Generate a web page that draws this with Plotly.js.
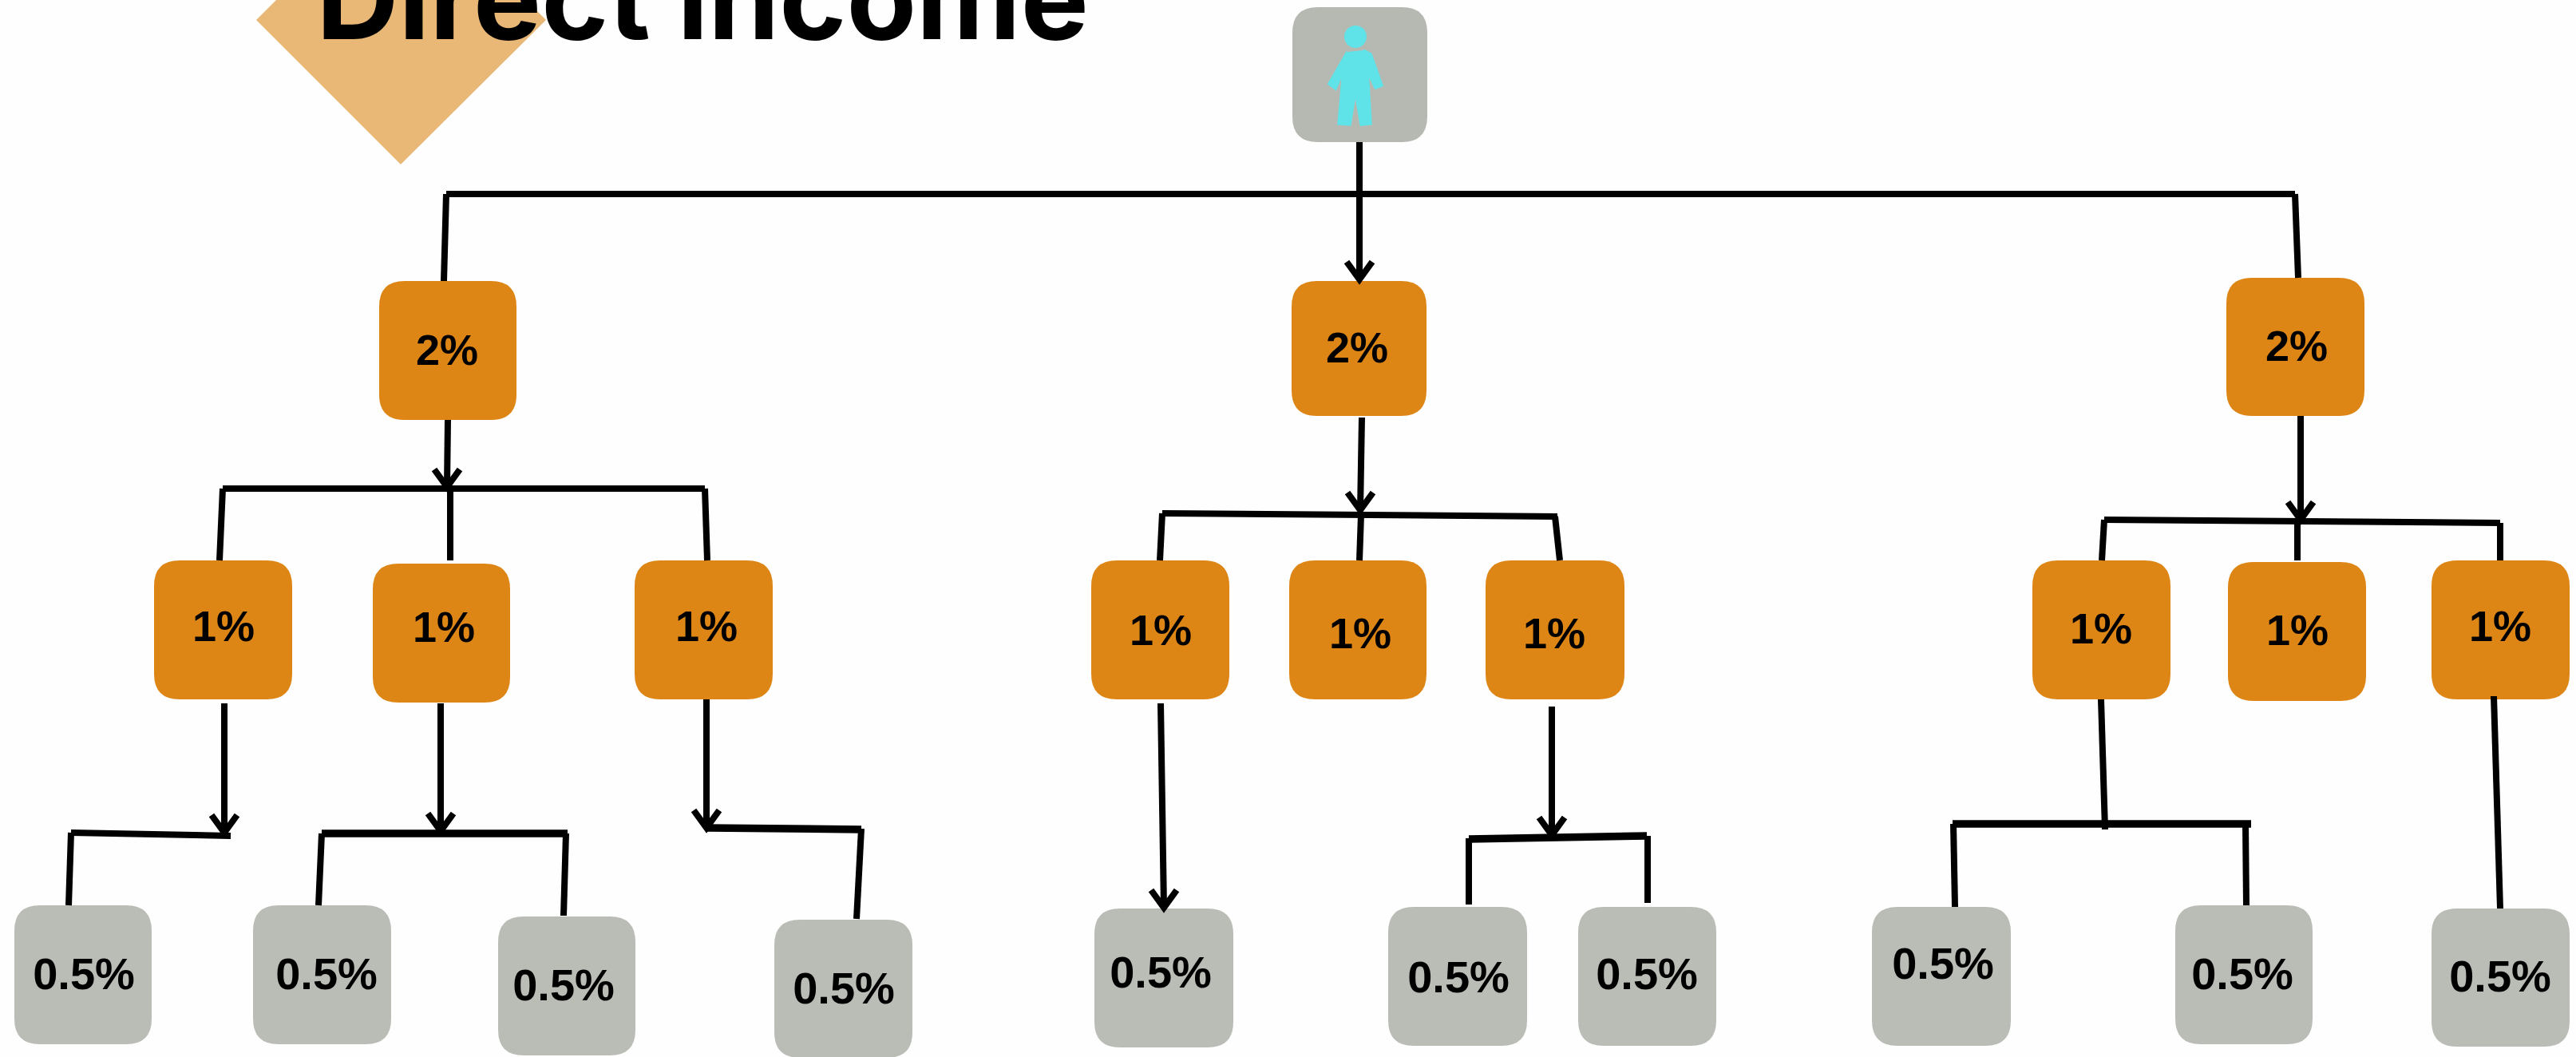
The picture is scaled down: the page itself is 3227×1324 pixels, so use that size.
<!DOCTYPE html>
<html><head><meta charset="utf-8">
<script src="https://cdn.plot.ly/plotly-3.0.1.min.js"></script>
<style>html,body{margin:0;padding:0;background:#fff;overflow:hidden}#c{width:3227px;height:1324px}</style>
</head><body><div id="c"></div>
<script>
// Nodes
const nodeLabels = ['','2%','2%','2%','1%','1%','1%','1%','1%','1%','1%','1%','1%','0.5%','0.5%','0.5%','0.5%','0.5%','0.5%','0.5%','0.5%','0.5%','0.5%'];
const nodeLeft   = [1619,475,1618,2789,193,467,795,1367,1615,1861,2546,2791,3046,18,317,624,970,1371,1739,1977,2345,2725,3046];
const nodeRight  = [1788,647,1787,2962,366,639,968,1540,1787,2035,2719,2964,3219,190,490,796,1143,1545,1913,2150,2519,2897,3219];
const nodeTop    = [9,352,352,348,702,706,702,702,702,702,702,704,702,1134,1134,1148,1152,1138,1136,1136,1136,1134,1138];
const nodeBottom = [178,526,521,521,876,880,876,876,876,876,876,878,876,1308,1308,1322,1325,1312,1310,1310,1310,1308,1311];
const labelX     = [null,560,1700,2877,280,556,885,1454,1704,1947,2632,2878,3132,105,409,706,1057,1454,1827,2063,2434,2809,3132];
const labelY     = [null,443,440,438,789,790,789,794,798,798,792,794,789,1225,1225,1239,1243,1223,1229,1225,1212,1225,1228];
const labelSize  = [54,54,54,54,54,54,54,54,54,54,54,54,54,56,56,56,56,56,56,56,56,56,56];
const nodeColor  = ['#B6B9B2','#DD8615','#DD8615','#DD8615','#DD8615','#DD8615','#DD8615','#DD8615','#DD8615','#DD8615','#DD8615','#DD8615','#DD8615','#B9BDB6','#B9BDB6','#B9BDB6','#B9BDB6','#B9BDB6','#B9BDB6','#B9BDB6','#B9BDB6','#B9BDB6','#B9BDB6'];
// Connectors
const lineX1 = [559,559,2875,1703,1703,1706,561,279,279,564,883,1456,1456,1705,1948,2636,2636,2878,3132,281,89,89,552,885,1079,1454,1944,1840,2064,2632,2447,2813,3124,2882,403,709];
const lineY1 = [243,243,243,178,243,523,526,612,612,612,612,643,643,645,647,651,651,653,655,881,1043,1043,881,876,1038,881,885,1050,1047,876,1032,1032,872,521,1044,1044];
const lineX2 = [2875,556,2879,1703,1703,1704,560,883,275,564,886,1951,1453,1703,1954,3132,2633,2878,3132,281,289,86,552,885,1073,1458,1944,1840,2064,2637,2449,2814,3132,2882,399,706];
const lineY2 = [243,352,348,243,350,639,610,612,702,702,702,647,702,702,702,655,702,702,702,1043,1047,1134,1041,1037,1151,1137,1046,1133,1131,1039,1136,1134,1138,651,1134,1147];
// Thick connector pieces
const thickX1 = [403,885,1840,2446];
const thickY1 = [1044,1037,1051,1032];
const thickX2 = [711,1079,2063,2820];
const thickY2 = [1044,1039,1047,1032];
// Arrow tips
const arrowX = [1703,560,1704,2882,281,552,885,1458,1944];
const arrowY = [350,610,639,651,1043,1041,1037,1137,1046];
// Decoration
const diamondX = [502,684,502,321,502];
const diamondY = [-156,25,206,25,-156];
const titleText = 'Direct income';
const personX = [1688,1665,1673,1683,1677,1691,1698,1705,1717,1713,1723,1731,1717,1708];
const personY = [65,105,111,88,155,156,113,156,155,88,110,107,68,63];
const headX = 1698, headY = 46, headR = 14;

const shapes = nodeLabels.map((_,i)=>{
  const l=nodeLeft[i],r=nodeRight[i],t=nodeTop[i],b=nodeBottom[i],c=32;
  return {type:'path',xref:'x',yref:'y',layer:'below',line:{width:0},fillcolor:nodeColor[i],
    path:`M${l+c},${t}L${r-c},${t}Q${r},${t} ${r},${t+c}L${r},${b-c}Q${r},${b} ${r-c},${b}L${l+c},${b}Q${l},${b} ${l},${b-c}L${l},${t+c}Q${l},${t} ${l+c},${t}Z`};
});
shapes.push({type:'circle',xref:'x',yref:'y',x0:headX-headR,x1:headX+headR,y0:headY-headR,y1:headY+headR,fillcolor:'#5FE3E8',line:{width:0},layer:'above'});

function segs(x1,y1,x2,y2){const x=[],y=[];x1.forEach((v,i)=>{x.push(v,x2[i],null);y.push(y1[i],y2[i],null);});return {x,y};}
const thin=segs(lineX1,lineY1,lineX2,lineY2);
const thick=segs(thickX1,thickY1,thickX2,thickY2);
const hx=[],hy=[];
arrowX.forEach((v,i)=>{hx.push(v-16,v,v+16,null);hy.push(arrowY[i]-22,arrowY[i],arrowY[i]-22,null);});

const data=[
 {x:diamondX,y:diamondY,mode:'lines',fill:'toself',fillcolor:'#E9B776',line:{width:0},type:'scatter'},
 {x:thin.x,y:thin.y,mode:'lines',line:{color:'#000',width:8},type:'scatter'},
 {x:thick.x,y:thick.y,mode:'lines',line:{color:'#000',width:9.5},type:'scatter'},
 {x:hx,y:hy,mode:'lines',line:{color:'#000',width:8,join:'miter'},type:'scatter'},
 {x:personX,y:personY,mode:'lines',fill:'toself',fillcolor:'#5FE3E8',line:{color:'#5FE3E8',width:3.5,join:'round'},type:'scatter'},
 {x:labelX,y:labelY,text:nodeLabels,mode:'text',textposition:'middle center',textfont:{family:'Liberation Sans',size:labelSize,color:'#000',weight:700},type:'scatter'},
 {x:[880],y:[13],text:[titleText],mode:'text',textposition:'middle center',textfont:{family:'Inter',size:143,color:'#000',weight:700},type:'scatter',cliponaxis:false}
];
const layout={width:3227,height:1324,margin:{l:0,r:0,t:0,b:0},showlegend:false,hovermode:false,
 paper_bgcolor:'#FEFEFE',plot_bgcolor:'#FEFEFE',
 xaxis:{range:[0,3227],visible:false,fixedrange:true},
 yaxis:{range:[1324,0],visible:false,fixedrange:true},
 shapes};
Plotly.newPlot('c',data,layout,{displayModeBar:false,staticPlot:true});
</script></body></html>
